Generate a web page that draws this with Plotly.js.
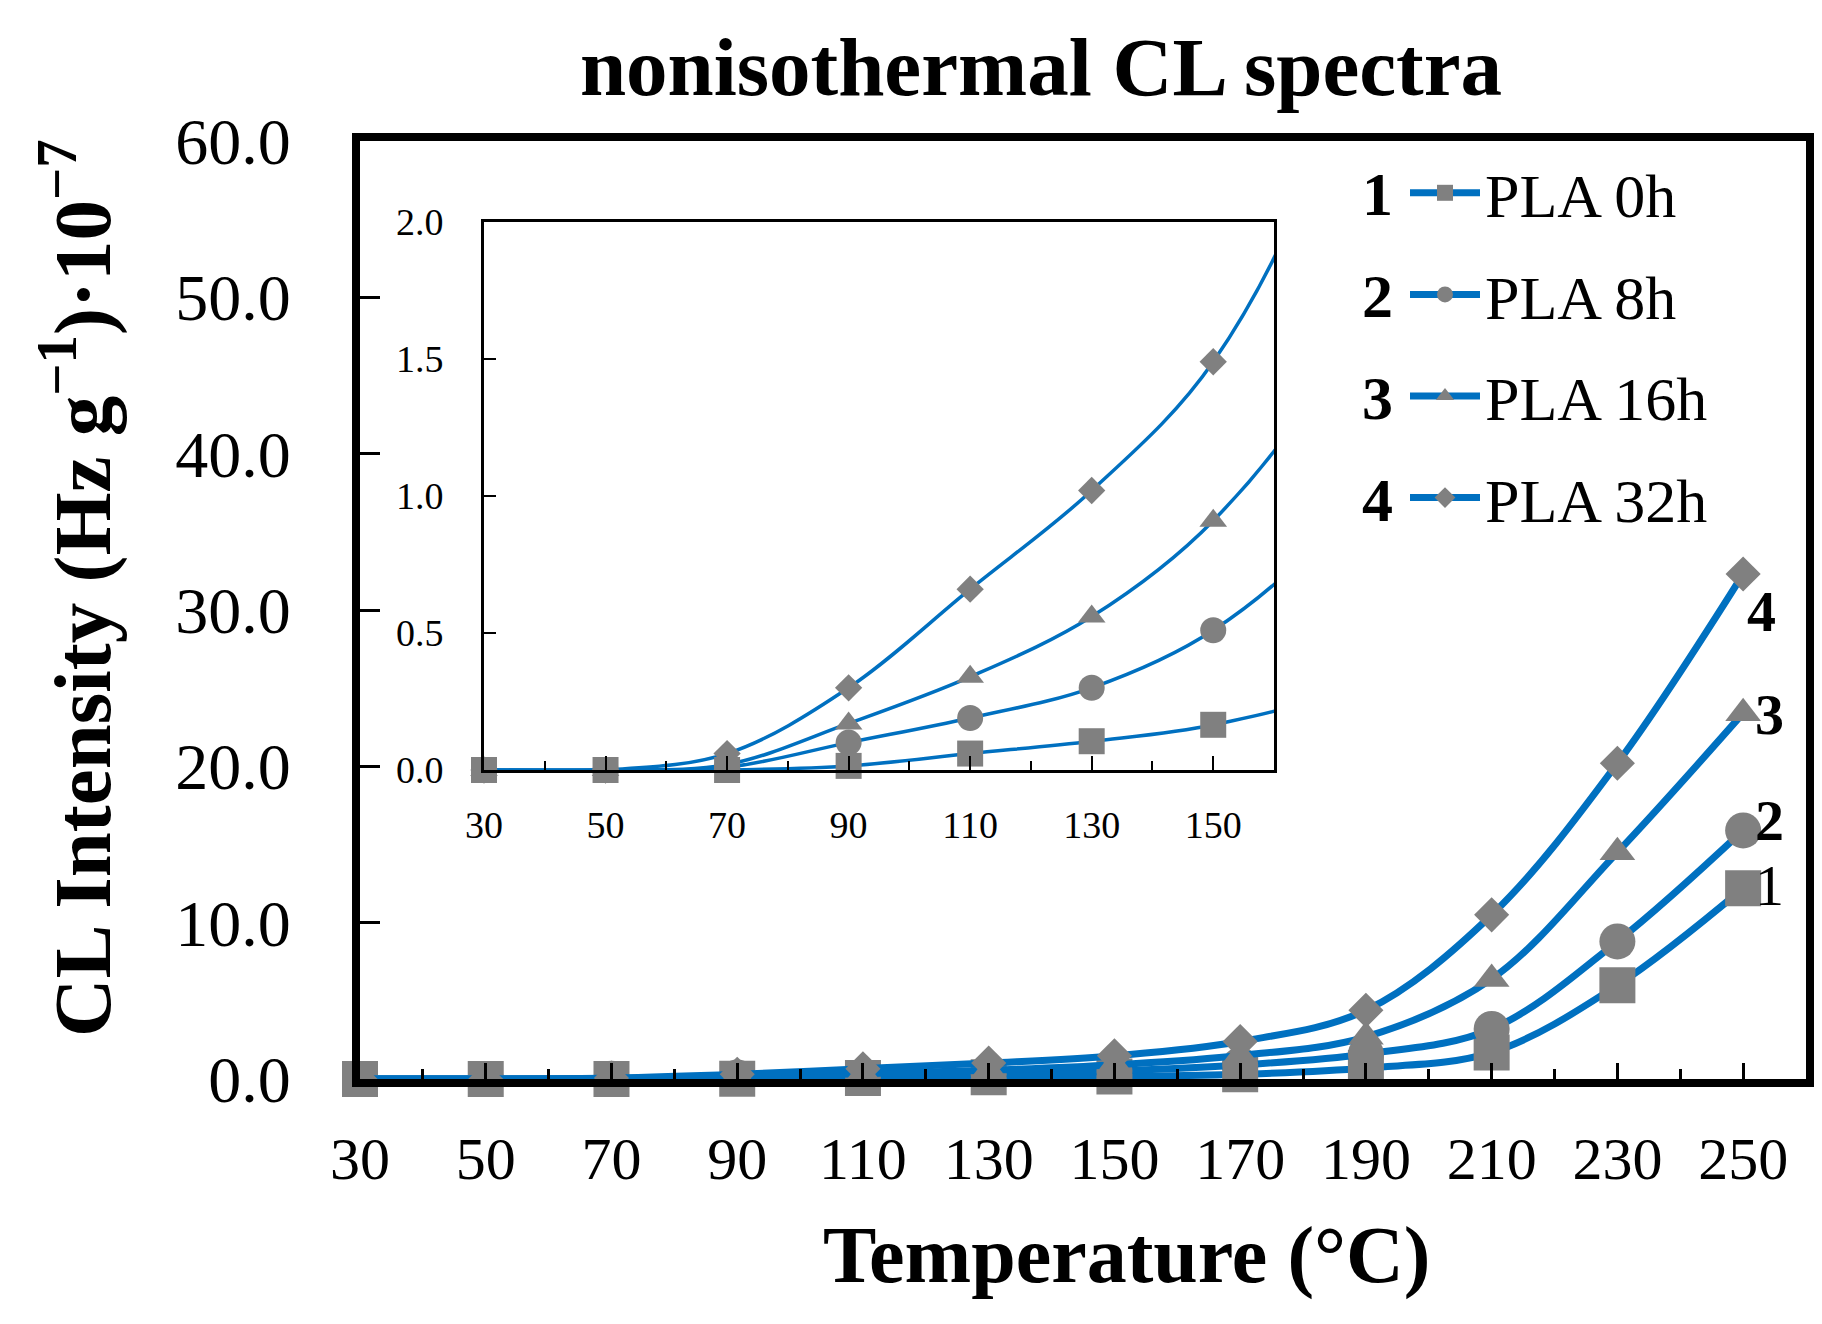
<!DOCTYPE html>
<html>
<head>
<meta charset="utf-8">
<script src="https://cdn.plot.ly/plotly-3.0.1.min.js"></script>
<style>
  body { margin: 0; background: #fff; }
  #chart { width: 1822px; height: 1324px; }
</style>
</head>
<body>
<div id="chart"></div>
<script>
  // temperatures (°C) and CL intensity (Hz g-1 x 1e-7)
  const temps = [30, 50, 70, 90, 110, 130, 150, 170, 190, 210, 230, 250];
  const pla0h = [0, 0, 0, 0.015, 0.06, 0.105, 0.165, 0.3, 0.7, 1.7, 6.0, 12.2];
  const pla8h = [0, 0, 0.01, 0.10, 0.19, 0.30, 0.51, 0.9, 1.6, 3.2, 8.8, 15.9];
  const pla16h = [0, 0, 0.02, 0.17, 0.34, 0.56, 0.91, 1.5, 2.7, 6.4, 14.5, 23.4];
  const pla32h = [0, 0, 0.06, 0.30, 0.66, 1.02, 1.49, 2.4, 4.4, 10.5, 20.2, 32.3];

  const seriesNames = ['PLA 0h', 'PLA 8h', 'PLA 16h', 'PLA 32h'];
  const seriesLabels = ['1', '2', '3', '4'];
  const seriesValues = [pla0h, pla8h, pla16h, pla32h];
  const symbols = ['square', 'circle', 'triangle-up', 'diamond'];

  const mainTicks = ['30', '50', '70', '90', '110', '130', '150', '170', '190', '210', '230', '250'];
  const insetTicks = ['30', '50', '70', '90', '110', '130', '150'];

  const insetMax = 160;

  const blue = '#0070C0';
  const grey = '#808080';
  const serif = 'Liberation Serif, Times New Roman, serif';

  const mainSizes = [36, 36, 31, 27];
  const insetSizes = [26, 26, 24, 21];

  // plot area in pixels, used to place the free texts
  const plotL = 360, plotR = 1806, plotT = 141, plotB = 1079;
  function px(x) { return (x - plotL) / (plotR - plotL); }
  function py(y) { return (plotB - y) / (plotB - plotT); }

  var data = [];

  // main chart
  for (let i = 0; i < seriesValues.length; i++) {
    data.push({
      x: temps,
      y: seriesValues[i],
      name: seriesNames[i],
      type: 'scatter',
      mode: 'lines+markers',
      cliponaxis: false,
      line: {color: blue, width: 7, shape: 'spline', smoothing: 1},
      marker: {symbol: symbols[i], color: grey, size: mainSizes[i]},
      legendgroup: 'g' + i,
      xaxis: 'x',
      yaxis: 'y'
    });
  }

  // inset: lines clipped at the inset frame
  for (let i = 0; i < seriesValues.length; i++) {
    data.push({
      x: temps,
      y: seriesValues[i],
      type: 'scatter',
      mode: 'lines',
      showlegend: false,
      hoverinfo: 'skip',
      line: {color: blue, width: 3.5, shape: 'spline', smoothing: 1},
      xaxis: 'x2',
      yaxis: 'y2'
    });
  }

  // inset markers, only the points inside the inset range
  for (let i = 0; i < seriesValues.length; i++) {
    let xs = [];
    let ys = [];
    for (let j = 0; j < temps.length; j++) {
      if (temps[j] <= insetMax) {xs.push(temps[j]); ys.push(seriesValues[i][j]);}
    }
    data.push({
      x: xs,
      y: ys,
      type: 'scatter',
      mode: 'markers',
      showlegend: false,
      cliponaxis: false,
      marker: {symbol: symbols[i], color: grey, size: insetSizes[i]},
      xaxis: 'x2',
      yaxis: 'y2'
    });
  }

  var annotations = [];

  // number labels next to the last points
  const labelShiftX = [10, 10, 10, 2];
  const labelShiftY = [3, 10, -1, -37];
  for (let i = 0; i < seriesValues.length; i++) {
    let last = seriesValues[i].length - 1;
    annotations.push({
      x: temps[last],
      y: seriesValues[i][last],
      xref: 'x', yref: 'y',
      text: i === 0 ? seriesLabels[i] : '<b>' + seriesLabels[i] + '</b>',
      showarrow: false,
      xanchor: 'left', yanchor: 'middle',
      xshift: labelShiftX[i],
      yshift: labelShiftY[i],
      font: {family: serif, size: 58, color: '#000'}
    });
  }

  // numbers in front of the legend entries
  for (let i = 0; i < seriesLabels.length; i++) {
    annotations.push({
      x: px(1377), y: py(194 + i * 102),
      xref: 'paper', yref: 'paper',
      xanchor: 'center', yanchor: 'middle',
      text: '<b>' + seriesLabels[i] + '</b>',
      showarrow: false,
      font: {family: serif, size: 62, color: '#000'}
    });
  }

  // axis titles
  annotations.push({
    x: px(1126), y: py(1255),
    xref: 'paper', yref: 'paper',
    xanchor: 'center', yanchor: 'middle',
    text: '<b>Temperature (°C)</b>',
    showarrow: false,
    font: {family: serif, size: 80, color: '#000'}
  });
  annotations.push({
    x: px(76), y: py(588),
    xref: 'paper', yref: 'paper',
    xanchor: 'center', yanchor: 'middle',
    text: '<b>CL Intensity (Hz g<sup>−1</sup>)·10<sup>−7</sup></b>',
    textangle: -90,
    showarrow: false,
    font: {family: serif, size: 81, color: '#000'}
  });

  var layout = {
    width: 1822,
    height: 1324,
    margin: {l: plotL, r: 1822 - plotR, t: plotT, b: 1324 - plotB},
    paper_bgcolor: '#fff',
    plot_bgcolor: '#fff',
    font: {family: serif, color: '#000'},
    title: {
      text: '<b>nonisothermal CL spectra</b>',
      font: {family: serif, size: 83, color: '#000'},
      x: 1041 / 1822, xref: 'container', xanchor: 'center',
      y: 1 - 66 / 1324, yref: 'container', yanchor: 'middle'
    },
    showlegend: true,
    legend: {
      x: px(1405), y: py(146),
      xanchor: 'left', yanchor: 'top',
      font: {family: serif, size: 62, color: '#000'},
      itemwidth: 70,
      traceorder: 'grouped',
      tracegroupgap: 18,
      bgcolor: 'rgba(0,0,0,0)'
    },
    xaxis: {
      range: [30, 260],
      tickmode: 'array',
      tickvals: temps,
      ticktext: mainTicks,
      ticks: 'inside',
      ticklen: 16,
      tickwidth: 3,
      tickcolor: '#000',
      minor: {dtick: 10, tick0: 30, ticks: 'inside', ticklen: 10, tickwidth: 3, tickcolor: '#000'},
      showline: true,
      linewidth: 8,
      linecolor: '#000',
      mirror: true,
      showgrid: false,
      zeroline: false,
      ticklabelstandoff: 20,
      tickfont: {family: serif, size: 60, color: '#000'}
    },
    yaxis: {
      range: [0, 60],
      dtick: 10,
      tickformat: '.1f',
      ticks: 'inside',
      ticklen: 20,
      tickwidth: 3,
      tickcolor: '#000',
      showline: true,
      linewidth: 8,
      linecolor: '#000',
      mirror: true,
      showgrid: false,
      zeroline: false,
      ticklabelstandoff: 48,
      tickfont: {family: serif, size: 66, color: '#000'}
    },
    xaxis2: {
      domain: [px(484), px(1274)],
      anchor: 'y2',
      range: [30, insetMax],
      tickmode: 'array',
      tickvals: temps.slice(0, insetTicks.length),
      ticktext: insetTicks,
      ticks: 'inside',
      ticklen: 14,
      tickwidth: 2,
      tickcolor: '#000',
      minor: {dtick: 10, tick0: 30, ticks: 'inside', ticklen: 9, tickwidth: 2, tickcolor: '#000'},
      showline: true,
      linewidth: 3,
      linecolor: '#000',
      mirror: true,
      showgrid: false,
      zeroline: false,
      ticklabelstandoff: 19,
      tickfont: {family: serif, size: 38, color: '#000'}
    },
    yaxis2: {
      domain: [py(770), py(222)],
      anchor: 'x2',
      range: [0, 2],
      dtick: 0.5,
      tickformat: '.1f',
      ticks: 'inside',
      ticklen: 12,
      tickwidth: 2,
      tickcolor: '#000',
      showline: true,
      linewidth: 3,
      linecolor: '#000',
      mirror: true,
      showgrid: false,
      zeroline: false,
      ticklabelstandoff: 30,
      tickfont: {family: serif, size: 38, color: '#000'}
    },
    annotations: annotations
  };

  Plotly.newPlot('chart', data, layout, {displayModeBar: false, staticPlot: true});
</script>
</body>
</html>
